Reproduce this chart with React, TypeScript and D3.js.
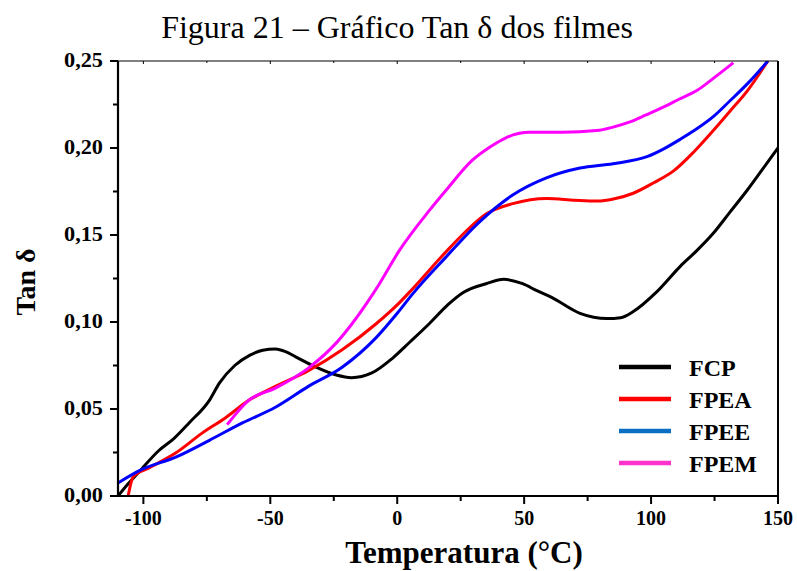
import React from "react";
import * as d3 from "d3";

// Temperature (°C) and tan δ readings for each film
const fcpT = [-110, -106, -101, -94, -88, -82, -74, -70, -64, -58, -53, -48, -44, -40, -32, -24, -18, -10, -2, 5, 12.6, 20, 26, 35, 42, 49.4, 55, 61, 72, 82.6, 88, 93, 102, 111.5, 118, 124.5, 131, 138, 144, 150];
const fcpV = [0, 0.007, 0.015, 0.026, 0.033, 0.042, 0.055, 0.065, 0.075, 0.081, 0.0838, 0.0845, 0.083, 0.080, 0.074, 0.0695, 0.068, 0.0707, 0.079, 0.0885, 0.099, 0.110, 0.117, 0.122, 0.1245, 0.122, 0.118, 0.114, 0.105, 0.102, 0.1025, 0.106, 0.117, 0.132, 0.141, 0.151, 0.163, 0.176, 0.188, 0.200];

const fpeaT = [-106, -104, -98, -87, -77, -67.6, -58.5, -48, -35, -21.7, -8.3, 0.8, 6, 19, 27, 35, 45.5, 59, 70, 78.6, 86, 93, 101, 109, 117, 124.5, 131, 138, 146];
const fpeaV = [0, 0.011, 0.016, 0.025, 0.036, 0.045, 0.055, 0.063, 0.072, 0.084, 0.099, 0.111, 0.119, 0.140, 0.152, 0.162, 0.168, 0.171, 0.170, 0.1695, 0.171, 0.174, 0.180, 0.187, 0.198, 0.210, 0.221, 0.233, 0.250];

const fpeeT = [-110, -101, -87, -74, -61, -48, -35, -21.7, -8.3, 0, 6, 19, 32, 45.5, 59, 72, 85, 98.4, 105, 111.5, 118, 124.5, 131, 138, 146];
const fpeeV = [0.0075, 0.015, 0.0225, 0.032, 0.042, 0.051, 0.063, 0.074, 0.091, 0.105, 0.116, 0.137, 0.157, 0.173, 0.183, 0.1885, 0.191, 0.195, 0.1995, 0.205, 0.211, 0.218, 0.227, 0.237, 0.250];

const fpemT = [-67, -58.5, -48, -35, -24, -17.8, -11, -7, 0.8, 12.6, 19.4, 29.6, 37, 43, 52, 65, 78.6, 85, 91.7, 98, 105, 111, 118, 124.5, 132.4];
const fpemV = [0.041, 0.055, 0.062, 0.0735, 0.088, 0.099, 0.113, 0.122, 0.141, 0.164, 0.176, 0.193, 0.201, 0.206, 0.209, 0.209, 0.210, 0.212, 0.215, 0.219, 0.2236, 0.228, 0.233, 0.240, 0.249];

const seriesNames = ["FCP", "FPEA", "FPEE", "FPEM"];
const lineColors = ["#000000", "#ff0000", "#0000ff", "#ff00ff"];
const legendColors = ["#000000", "#ff0000", "#0a6fc2", "#ff33cc"];

const xTicks = [-100, -50, 0, 50, 100, 150];
const xMinor = [-75, -25, 25, 75, 125];
const yTicks = [0, 0.05, 0.1, 0.15, 0.2, 0.25];
const yMinor = [0.025, 0.075, 0.125, 0.175, 0.225];

const W = 797;
const H = 571;
const left = 118;
const right = 778;
const top = 61;
const bottom = 496;

export default function App() {
  const x = d3.scaleLinear().domain([-110, 150]).range([left, right]);
  const y = d3.scaleLinear().domain([0, 0.25]).range([bottom, top]);

  const series = [
    { t: fcpT, v: fcpV },
    { t: fpeaT, v: fpeaV },
    { t: fpeeT, v: fpeeV },
    { t: fpemT, v: fpemV },
  ];

  const line = d3
    .line<[number, number]>()
    .x((d) => x(d[0]))
    .y((d) => y(d[1]))
    .curve(d3.curveMonotoneX);

  const fmt = (v: number) => v.toFixed(2).replace(".", ",");
  const font = "'Liberation Serif', 'Times New Roman', serif";

  return (
    <svg
      width={W}
      height={H}
      style={{ position: "absolute", left: 0, top: 0, background: "#fff" }}
      fontFamily={font}
    >
      <defs>
        <clipPath id="plot">
          <rect x={left} y={top} width={right - left} height={bottom - top} />
        </clipPath>
      </defs>

      <text x={397} y={38} textAnchor="middle" fontSize={32} fill="#000">
        Figura 21 – Gráfico Tan δ dos filmes
      </text>

      {/* data lines */}
      <g clipPath="url(#plot)">
        {series.map((s, i) => (
          <path
            key={seriesNames[i]}
            d={line(s.t.map((t, k) => [t, s.v[k]] as [number, number])) || ""}
            fill="none"
            stroke={lineColors[i]}
            strokeWidth={3}
            strokeLinejoin="round"
          />
        ))}
      </g>

      {/* frame */}
      <line x1={left} x2={right} y1={top} y2={top} stroke="#000" strokeWidth={1.2} />
      <line x1={right} x2={right} y1={top} y2={bottom} stroke="#000" strokeWidth={2} />
      <line x1={left} x2={left} y1={top} y2={bottom + 1} stroke="#000" strokeWidth={2.2} />
      <line x1={left - 1} x2={right + 1} y1={bottom} y2={bottom} stroke="#000" strokeWidth={2.2} />

      {/* x ticks */}
      {xTicks.map((t) => (
        <g key={"xt" + t}>
          <line x1={x(t)} x2={x(t)} y1={bottom} y2={bottom + 8} stroke="#000" strokeWidth={2} />
          <line x1={x(t)} x2={x(t)} y1={top} y2={top + 3} stroke="#000" strokeWidth={1} />
          <text x={x(t)} y={525} textAnchor="middle" fontSize={20} fontWeight="bold">
            {t}
          </text>
        </g>
      ))}
      {xMinor.map((t) => (
        <g key={"xm" + t}>
          <line x1={x(t)} x2={x(t)} y1={bottom} y2={bottom + 5} stroke="#000" strokeWidth={2} />
          <line x1={x(t)} x2={x(t)} y1={top} y2={top + 2} stroke="#000" strokeWidth={1} />
        </g>
      ))}

      {/* y ticks */}
      {yTicks.map((v) => (
        <g key={"yt" + v}>
          <line x1={left - 8} x2={left} y1={y(v)} y2={y(v)} stroke="#000" strokeWidth={2} />
          <text x={103} y={y(v) + 6} textAnchor="end" fontSize={20} fontWeight="bold" textLength={39} lengthAdjust="spacingAndGlyphs">
            {fmt(v)}
          </text>
        </g>
      ))}
      {yMinor.map((v) => (
        <line key={"ym" + v} x1={left - 5} x2={left} y1={y(v)} y2={y(v)} stroke="#000" strokeWidth={2} />
      ))}

      {/* axis titles */}
      <text
        transform={`translate(35, 282) rotate(-90)`}
        textAnchor="middle"
        fontSize={28}
        fontWeight="bold"
      >
        Tan δ
      </text>
      <text x={464} y={563} textAnchor="middle" fontSize={31} fontWeight="bold">
        Temperatura (°C)
      </text>

      {/* legend */}
      {seriesNames.map((n, i) => {
        const ly = 367 + i * 32;
        return (
          <g key={"lg" + n}>
            <line x1={619} x2={671} y1={ly} y2={ly} stroke={legendColors[i]} strokeWidth={4.5} />
            <text x={689} y={ly + 9} fontSize={24} fontWeight="bold">
              {n}
            </text>
          </g>
        );
      })}
    </svg>
  );
}
